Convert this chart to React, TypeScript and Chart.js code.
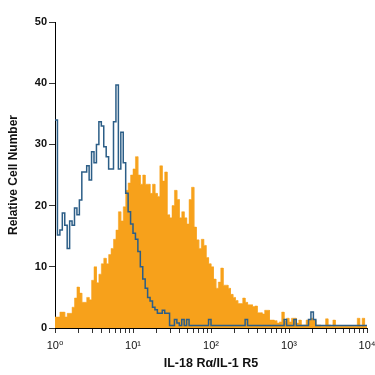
import React, { useEffect, useRef } from "react";
import { Chart, registerables } from "chart.js";

Chart.register(...registerables);

// Histogram channels: 32 channels per decade over 10^0 .. 10^4
const CHANNELS_PER_DECADE = 32;
const X_MIN = 1;
const X_MAX = 10000;

const DECADE_VALUES = [1, 10, 100, 1000, 10000];
const DECADE_LABELS = ["10\u2070", "10\u00B9", "10\u00B2", "10\u00B3", "10\u2074"];
const Y_TICKS = [0, 10, 20, 30, 40, 50];

const X_TITLE = "IL-18 R\u03B1/IL-1 R5";
const Y_TITLE = "Relative Cell Number";

// Stained sample (orange filled histogram)
const ORANGE = [
  1.8, 1.8, 2.6, 2.6, 1.8, 2.4, 2.4, 3.4, 4.9, 6.7,
  5.7, 4.2, 4.2, 5.0, 4.6, 7.8, 10, 7.4, 8.8, 10.5,
  11.4, 10.5, 12, 13, 14.5, 16, 19, 17.5, 19.8, 22.5,
  23.7, 25, 26, 28, 25, 23.5, 25, 23.5, 23.5, 22,
  23.5, 22, 21.5, 26.5, 24, 25.5, 18.5, 18, 20, 22.5,
  21, 18, 19, 18, 17, 21, 23, 16.5, 14.4, 13,
  14.5, 13.5, 11.5, 10.5, 10, 8, 6.5, 7.5, 9.8, 7,
  7, 6.5, 5.5, 5, 4.5, 4, 4, 4.9, 4.2, 3.8,
  3.8, 3.5, 3.6, 2.5, 2.5, 2.3, 2.9, 2.9, 1.3, 1.3,
  1.2, 0.8, 1.0, 2.6, 1.2, 1.6, 1.0, 1.6, 1.6, 0.8,
  1.3, 0.5, 0.5, 1.3, 1.3, 1.6, 1.3, 0.5, 0.5, 0.3,
  0.3, 1.5, 0.5, 0.3, 1.3, 0.3, 0.3, 0.3, 0.3, 0.3,
  0.3, 0.3, 0.3, 0.3, 1.6, 0.3, 1.6, 0.3,
];

// Isotype control (blue open histogram)
const BLUE = [
  34, 15.2, 16, 18.8, 16.8, 13, 17.5, 16.8, 19.6, 18.5,
  20.9, 25.5, 25.5, 26.5, 24.2, 28.8, 27, 30, 33.7, 33,
  29.6, 28, 26, 26, 33.7, 39.7, 26, 32, 27, 22,
  19, 17, 15.5, 14.5, 12.5, 10, 8, 6.5, 5, 4.4,
  3.4, 3.0, 2.4, 2.4, 2.9, 2.4, 2.4, 0.4, 0.4, 1.4,
  0.8, 0.4, 1.4, 0.4, 1.4, 0.4, 0.4, 0.4, 0.4, 0.4,
  0.4, 0.4, 0.4, 1.4, 0.4, 0.4, 0.4, 0.4, 0.4, 0.4,
  0.4, 0.4, 0.4, 0.4, 0.4, 0.4, 0.4, 0.4, 1.4, 0.4,
  0.4, 0.4, 0.4, 0.4, 0.4, 0.4, 0.4, 0.4, 0.4, 0.4,
  0.4, 0.4, 0.4, 0.4, 1.4, 0.4, 0.4, 0.4, 1.4, 0.4,
  0.4, 0.4, 0.4, 0.4, 1.4, 2.6, 1.4, 0.4, 0.4, 0.4,
  0.4, 0.4, 0.4, 0.4, 0.4, 0.4, 0.4, 0.4, 0.4, 0.4,
  0.4, 0.4, 0.4, 0.4, 0.4, 0.4, 0.4, 0.4,
];

const ORANGE_COLOR = "#F7A11B";
const BLUE_COLOR = "#2c5e87";

function toSteps(values: number[]) {
  const pts: { x: number; y: number }[] = [];
  values.forEach((v, i) => {
    const x0 = Math.pow(10, i / CHANNELS_PER_DECADE);
    const x1 = Math.pow(10, (i + 1) / CHANNELS_PER_DECADE);
    pts.push({ x: x0, y: v }, { x: x1, y: v });
  });
  return pts;
}

function buildLogTicks() {
  const out: number[] = [];
  for (let d = 0; d < DECADE_VALUES.length - 1; d++) {
    for (let m = 1; m <= 9; m++) out.push(m * DECADE_VALUES[d]);
  }
  out.push(DECADE_VALUES[DECADE_VALUES.length - 1]);
  return out;
}

const SANS = "'Liberation Sans', Arial, 'DejaVu Sans', sans-serif";

export default function App() {
  const ref = useRef<HTMLCanvasElement | null>(null);

  useEffect(() => {
    if (!ref.current) return;
    const logTicks = buildLogTicks();
    const chart = new Chart(ref.current, {
      type: "line",
      data: {
        datasets: [
          {
            label: "Isotype control",
            data: toSteps(BLUE),
            borderColor: BLUE_COLOR,
            borderWidth: 1.5,
            fill: false,
            pointRadius: 0,
            tension: 0,
          },
          {
            label: X_TITLE,
            data: toSteps(ORANGE),
            borderColor: ORANGE_COLOR,
            backgroundColor: ORANGE_COLOR,
            borderWidth: 0.5,
            fill: "origin",
            pointRadius: 0,
            tension: 0,
          },
        ],
      },
      options: {
        animation: false,
        responsive: false,
        maintainAspectRatio: false,
        layout: { padding: { top: 22, right: 8, left: 0, bottom: 0 } },
        plugins: {
          legend: { display: false },
          tooltip: { enabled: false },
        },
        scales: {
          x: {
            type: "logarithmic",
            min: X_MIN,
            max: X_MAX,
            border: { display: true, color: "#000", width: 1 },
            grid: {
              drawOnChartArea: false,
              drawTicks: true,
              tickLength: 5,
              color: "#333",
              lineWidth: 1,
            },
            afterBuildTicks: (scale: any) => {
              scale.ticks = logTicks.map((v) => ({ value: v }));
            },
            ticks: {
              autoSkip: false,
              maxRotation: 0,
              minRotation: 0,
              padding: 6,
              color: "#111",
              font: { family: SANS, size: 11 },
              callback: (value: any) => {
                const v = Number(value);
                const idx = DECADE_VALUES.findIndex((d) => Math.abs(d - v) < 1e-6 * d);
                return idx >= 0 ? DECADE_LABELS[idx] : "";
              },
            },
            title: {
              display: true,
              text: X_TITLE,
              color: "#111",
              font: { family: SANS, size: 12.5, weight: "bold" },
              padding: { top: 0, bottom: 4 },
            },
            afterFit: (scale: any) => {
              scale.height = 47;
              scale.paddingLeft = 0;
              scale.paddingRight = 0;
            },
          },
          y: {
            type: "linear",
            min: 0,
            max: 50,
            border: { display: true, color: "#000", width: 1 },
            grid: {
              drawOnChartArea: false,
              drawTicks: true,
              tickLength: 6,
              color: "#333",
            },
            afterBuildTicks: (scale: any) => {
              scale.ticks = Y_TICKS.map((v) => ({ value: v }));
            },
            ticks: {
              padding: 2,
              color: "#111",
              font: { family: SANS, size: 11, weight: "bold" },
            },
            title: {
              display: true,
              text: Y_TITLE,
              color: "#111",
              font: { family: SANS, size: 12, weight: "bold" },
              padding: { top: 6, bottom: 0 },
            },
            afterFit: (scale: any) => {
              scale.width = 55;
              scale.paddingTop = 0;
              scale.paddingBottom = 0;
            },
          },
        },
      } as any,
    });
    return () => chart.destroy();
  }, []);

  return (
    <div style={{ position: "absolute", left: 0, top: 0, width: 375, height: 375, background: "#fff" }}>
      <canvas ref={ref} width={375} height={375} style={{ width: 375, height: 375 }} />
    </div>
  );
}
